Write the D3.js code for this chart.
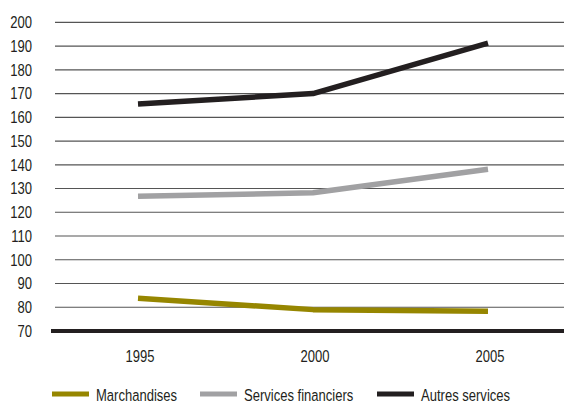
<!DOCTYPE html>
<html>
<head>
<meta charset="utf-8">
<script src="https://cdn.jsdelivr.net/npm/d3@7"></script>
<style>
  html, body { margin: 0; padding: 0; background: #fff; }
  svg text { font-family: "Liberation Sans", Arial, sans-serif; fill: #231f20; font-size: 16.5px; }
</style>
</head>
<body>
<svg id="chart" width="564" height="404"></svg>
<script>
const years = ["1995", "2000", "2005"];
const marchandises = [83.8, 79.0, 78.3];
const servicesFinanciers = [126.7, 128.2, 138.1];
const autresServices = [165.6, 170.0, 191.2];
const seriesNames = ["Marchandises", "Services financiers", "Autres services"];
const seriesColors = ["#968600", "#a1a1a3", "#231f20"];
const yTicks = [70, 80, 90, 100, 110, 120, 130, 140, 150, 160, 170, 180, 190, 200];

const series = [marchandises, servicesFinanciers, autresServices];
const SX = 0.79; // condensed look

const svg = d3.select("#chart");
const x = d3.scalePoint().domain(years).range([138, 488]);
const y = d3.scaleLinear().domain([70, 200]).range([331, 22.3]);

// gridlines
svg.append("g")
  .selectAll("line")
  .data(yTicks.filter(t => t !== 70))
  .join("line")
  .attr("x1", 55).attr("x2", 564)
  .attr("y1", d => y(d)).attr("y2", d => y(d))
  .attr("stroke", "#555").attr("stroke-width", 1.2);

// y labels
svg.append("g")
  .selectAll("g")
  .data(yTicks)
  .join("g")
  .attr("transform", d => `translate(32,${y(d)}) scale(${SX},1)`)
  .append("text")
  .attr("dy", "0.36em")
  .attr("text-anchor", "end")
  .text(d => d);

// baseline axis
svg.append("line")
  .attr("x1", 51).attr("x2", 564)
  .attr("y1", y(70)).attr("y2", y(70))
  .attr("stroke", "#231f20").attr("stroke-width", 4);

// x labels
svg.append("g")
  .selectAll("g")
  .data(years)
  .join("g")
  .attr("transform", d => `translate(${x(d) + 2},362) scale(${SX},1)`)
  .append("text")
  .attr("text-anchor", "middle")
  .text(d => d);

// lines
const line = d3.line().x((d, i) => x(years[i])).y(d => y(d));
svg.append("g")
  .selectAll("path")
  .data(series)
  .join("path")
  .attr("d", d => line(d))
  .attr("fill", "none")
  .attr("stroke", (d, i) => seriesColors[i])
  .attr("stroke-width", 5.5)
  .attr("stroke-linejoin", "bevel");

// legend
const legendX = [52, 200, 377];
const lg = svg.append("g")
  .selectAll("g")
  .data(seriesNames)
  .join("g")
  .attr("transform", (d, i) => `translate(${legendX[i]},394)`);
lg.append("line")
  .attr("x1", 0).attr("x2", 37)
  .attr("y1", 0).attr("y2", 0)
  .attr("stroke", (d, i) => seriesColors[i])
  .attr("stroke-width", 5);
lg.append("g")
  .attr("transform", `translate(44,1) scale(${SX},1)`)
  .append("text")
  .attr("dy", "0.36em")
  .text(d => d);
</script>
</body>
</html>
